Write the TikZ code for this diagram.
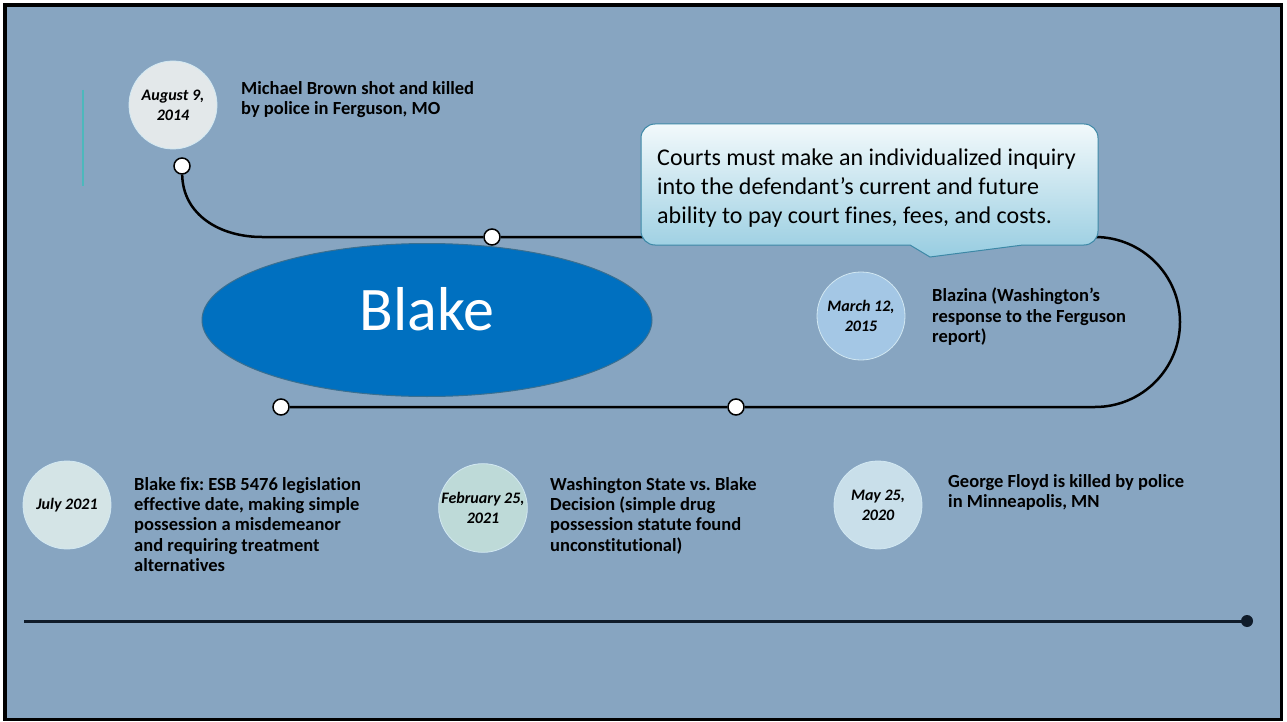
\documentclass[tikz,border=0pt]{standalone}
\usepackage{fontspec}
\setmainfont{Carlito}[Ligatures={NoCommon}]
\usetikzlibrary{shapes.geometric}
\usetikzlibrary{calc}
\usepackage{xcolor}
\frenchspacing

\definecolor{bgblue}{HTML}{87A5C1}
\definecolor{accent}{HTML}{4DB8BC}
\definecolor{blakeblue}{HTML}{0070C0}
\definecolor{blakeedge}{HTML}{3A6F90}
\definecolor{quotetop}{HTML}{F2F9FB}
\definecolor{quotebot}{HTML}{98CDE1}
\definecolor{quoteedge}{HTML}{3D88A6}
\definecolor{circedge}{HTML}{D2E8F2}
\definecolor{augfill}{HTML}{E3E8EA}
\definecolor{marfill}{HTML}{A4C7E5}
\definecolor{julfill}{HTML}{D4E4E6}
\definecolor{febfill}{HTML}{BEDAD8}
\definecolor{mayfill}{HTML}{C9DFEA}
\definecolor{tlcol}{HTML}{101C2A}

\tikzset{
  datecirc/.style={circle, minimum size=88pt, inner sep=0pt, align=center,
    draw=circedge, line width=0.8pt,
    font=\fontsize{16}{20}\selectfont\bfseries\itshape},
  dot/.style={circle, draw=black, fill=white, line width=1.5pt,
    minimum size=16pt, inner sep=0pt},
  event/.style={anchor=north west, align=left, inner sep=0pt,
    font=\fontsize{18.5}{20.3}\selectfont\bfseries},
  track/.style={line width=2.5pt, black},
}

\begin{document}
\begin{tikzpicture}[x=1pt,y=1pt]

        \useasboundingbox (0,0) rectangle (1287,-722);
        \fill[white] (0,0) rectangle (1287,-722);

        % Frame
        \draw[line width=3.3pt, fill=bgblue] (5,-5) rectangle (1281.5,-719.5);
        \draw[line width=1.5pt, accent] (83,-90) -- (83,-186);

        % Track
        \foreach \n/\x/\y in {p1/182/166, p2/492/237, p3/736/407, p4/281/407}
        {
          \node[dot] (\n) at (\x,-\y) {};
        }
        \draw[track] (p1) .. controls (183,-215) and (220,-237) .. (262,-237)
          -- (p2) -- (1095,-237) arc (90:-90:85) -- (p3) -- (p4);

        % Quote box
        \path[draw=quoteedge, line width=1pt, top color=quotetop, bottom color=quotebot,
          rounded corners=14pt]
          (870,-124) -- (1098,-124) -- (1098,-245) -- (1040,-245)
          [sharp corners] -- (1023,-245) -- (930,-257) -- (910,-245) -- (890,-245)
          [rounded corners=14pt] -- (641,-245) -- (641,-124) -- cycle;
        \node[anchor=north west, align=left, inner sep=0pt,
          font=\fontsize{24}{29}\selectfont] (quote) at (657,-149)
          {Courts must make an individualized inquiry\\
           into the defendant’s current and future\\
           ability to pay court fines, fees, and costs.};

        % Blake
        \node[ellipse, minimum width=450pt, minimum height=153pt, fill=blakeblue,
          draw=blakeedge, line width=1pt, text=white, text depth=22pt,
          font=\fontsize{62}{62}\selectfont] (blake) at (427,-320) {Blake};

        % Dates
        \node[datecirc, fill=augfill] (aug) at (173,-105) {August 9,\\2014};
        \node[datecirc, fill=marfill] (mar) at (861,-316) {March 12,\\2015};
        \node[datecirc, fill=julfill] (jul) at (67,-505) {July 2021};
        \node[datecirc, fill=febfill] (feb) at (483,-508) {February 25,\\2021};
        \node[datecirc, fill=mayfill] (may) at (878,-505) {May 25,\\2020};

        % Events
        \node[event] (brown) at (241,-81) {Michael Brown shot and killed\\by police in Ferguson, MO};
        \node[event] (blazina) at (932,-288) {Blazina (Washington’s\\response to the Ferguson\\report)};
        \node[event] (fix) at (134,-477) {Blake fix: ESB 5476 legislation\\effective date, making simple\\possession a misdemeanor\\and requiring treatment\\alternatives};
        \node[event] (state) at (550,-477) {Washington State vs. Blake\\Decision (simple drug\\possession statute found\\unconstitutional)};
        \node[event] (floyd) at (948,-474) {George Floyd is killed by police\\in Minneapolis, MN};

        % Timeline
        \coordinate (tl) at (24,-621);
        \node[circle, fill=tlcol, minimum size=12pt, inner sep=0pt] (tlend) at (1247,-621) {};
        \draw[line width=3pt, tlcol] (tl) -- (tlend.center);

    \end{tikzpicture}
\end{document}
